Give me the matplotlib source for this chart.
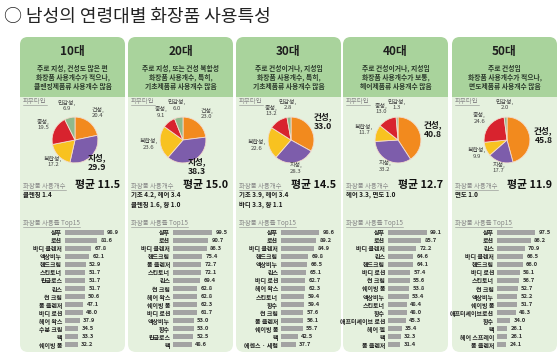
import matplotlib
matplotlib.use('Agg')
import matplotlib.pyplot as plt
from matplotlib.patches import FancyBboxPatch, Rectangle
import numpy as np

plt.rcParams['font.family'] = ['Noto Sans CJK KR', 'DejaVu Sans']

# === DATA === #
Title = '○ 남성의 연령대별 화장품 사용특성'
AgeGroups = ['10대', '20대', '30대', '40대', '50대']
Descriptions = [
    ['주로 지성, 건성도 많은 편', '화장품 사용개수가 적으나,', '클렌징제품류 사용개수 많음'],
    ['주로 지성, 또는 건성 복합성', '화장품 사용개수, 특히,', '기초제품류 사용개수 많음'],
    ['주로 건성이거나, 지성임', '화장품 사용개수, 특히,', '기초제품류 사용개수 많음'],
    ['주로 건성이거나, 지성임', '화장품 사용개수가 보통,', '헤어제품류 사용개수 많음'],
    ['주로 건성임', '화장품 사용개수가 적으나,', '면도제품류 사용개수 많음'],
]
SkinTypes = ['건성', '지성', '복합성', '중성', '민감성']
SkinColors = ['#f28a1e', '#7d5dab', '#f8c220', '#d8232e', '#8fb98c']
Skin10 = [20.4, 29.9, 17.2, 19.5, 6.9]
Skin20 = [23.0, 38.3, 23.6, 9.1, 6.0]
Skin30 = [33.0, 28.3, 22.6, 13.2, 2.8]
Skin40 = [40.8, 33.2, 11.7, 13.0, 1.3]
Skin50 = [45.8, 17.7, 9.9, 24.6, 2.0]
SkinShares = [Skin10, Skin20, Skin30, Skin40, Skin50]

AvgCount = [11.5, 15.0, 14.5, 12.7, 11.9]
CountNotes = [
    ['클렌징 1.4'],
    ['기초 4.2, 헤어 3.4', '클렌징 1.6, 향 1.0'],
    ['기초 3.9, 헤어 3.4', '바디 3.3, 향 1.1'],
    ['헤어 3.3, 면도 1.0'],
    ['면도 1.0'],
]

Items10 = ['샴푸', '로션', '바디 클렌저', '액상비누', '핸드크림', '스킨토너', '립글로스', '린스',
           '썬 크림', '폼 클렌저', '바디 로션', '헤어 왁스', '수분 크림', '팩', '쉐이빙 폼']
Rates10 = [98.9, 81.6, 67.8, 62.1, 52.9, 51.7, 51.7, 51.7, 50.6, 47.1, 46.0, 37.9, 34.5, 33.3, 32.2]
Items20 = ['샴푸', '로션', '바디 클렌저', '핸드크림', '폼 클렌저', '스킨토너', '린스', '썬 크림',
           '헤어 왁스', '쉐이빙 폼', '바디 로션', '액상비누', '향수', '립글로스', '팩']
Rates20 = [99.5, 90.7, 86.3, 75.4, 72.7, 72.1, 69.4, 62.8, 62.8, 62.3, 61.7, 53.0, 53.0, 52.5, 48.6]
Items30 = ['샴푸', '로션', '바디 클렌저', '핸드크림', '액상비누', '린스', '바디 로션', '헤어 왁스',
           '스킨토너', '향수', '썬 크림', '폼 클렌저', '쉐이빙 폼', '팩', '에센스 · 세럼']
Rates30 = [98.6, 89.2, 84.9, 69.8, 66.5, 65.1, 62.7, 62.3, 59.4, 59.4, 57.6, 56.1, 55.7, 42.5, 37.7]
Items40 = ['샴푸', '로션', '바디 클렌저', '린스', '핸드크림', '바디 로션', '썬 크림', '쉐이빙 폼',
           '액상비누', '스킨토너', '향수', '애프터셰이브 로션', '헤어 젤', '팩', '폼 클렌저']
Rates40 = [99.1, 85.7, 72.2, 64.6, 64.1, 57.4, 55.6, 53.8, 53.4, 48.4, 48.0, 45.3, 35.4, 32.3, 31.4]
Items50 = ['샴푸', '로션', '린스', '바디 클렌저', '핸드크림', '바디 로션', '스킨토너', '썬 크림',
           '액상비누', '쉐이빙 폼', '애프터셰이브로션', '향수', '팩', '헤어 스프레이', '폼 클렌저']
Rates50 = [97.5, 86.2, 70.9, 66.5, 66.0, 58.1, 56.7, 52.7, 52.2, 51.7, 48.3, 34.0, 26.1, 26.1, 24.1]
TopItems = [Items10, Items20, Items30, Items40, Items50]
TopRates = [Rates10, Rates20, Rates30, Rates40, Rates50]

# === LAYOUT (pixels) === #
W, H = 560, 356
ColLeft = [20, 128, 236, 343, 452]
ColW = 105
HeaderTop, HeaderBot, BodyBot = 37, 97, 352
HeaderColor = '#a9d39c'
BodyColor = '#e5f1de'
BarColor = '#a3a3a3'
GreyText = '#8a8a8a'


def fig_rect(x, y, w, h):
    '''pixel box (top-left origin) -> figure fraction'''
    return [x / W, 1 - (y + h) / H, w / W, h / H]


fig = plt.figure(figsize=(W / 100, H / 100), dpi=100)
fig.patch.set_facecolor('white')
bg = fig.add_axes([0, 0, 1, 1])
bg.set_xlim(0, W)
bg.set_ylim(H, 0)
bg.axis('off')

bg.text(4, 17, Title, fontsize=13, va='center', ha='left', color='#222222')

underlined = []
for i, left in enumerate(ColLeft):
    cx = left + ColW / 2
    # panel body + header
    bg.add_patch(FancyBboxPatch((left, HeaderTop), ColW, BodyBot - HeaderTop,
                                boxstyle='round,pad=0,rounding_size=8', fc=BodyColor, ec='none'))
    bg.add_patch(FancyBboxPatch((left, HeaderTop), ColW, HeaderBot - HeaderTop,
                                boxstyle='round,pad=0,rounding_size=8', fc=HeaderColor, ec='none'))
    bg.add_patch(Rectangle((left, HeaderBot - 10), ColW, 10, fc=HeaderColor, ec='none'))
    bg.text(cx, 52, AgeGroups[i], fontsize=8.5, fontweight='bold', ha='center', va='center', color='#1e1e1e')
    for k, line in enumerate(Descriptions[i]):
        bg.text(cx, 68 + 9 * k, line, fontsize=4.9, fontweight='bold', ha='center', va='center', color='#2b3a2b')

    t = bg.text(left + 3, 101, '피부타입', fontsize=4.6, color=GreyText, ha='left', va='center')
    underlined.append(t)
    t = bg.text(left + 3, 186, '화장품 사용개수', fontsize=4.6, color=GreyText, ha='left', va='center')
    underlined.append(t)
    bg.text(left + ColW - 5, 185, f'평균 {AvgCount[i]:.1f}', fontsize=7.8, fontweight='bold',
            ha='right', va='center', color='#111111')
    for k, line in enumerate(CountNotes[i]):
        bg.text(left + 3, 195 + 9 * k, line, fontsize=4.6, fontweight='bold', ha='left', va='center', color='#1a1a1a')
    t = bg.text(left + 3, 223, '화장품 사용률 Top15', fontsize=4.6, color=GreyText, ha='left', va='center')
    underlined.append(t)

    # pie
    pw = 110
    pcx, pcy = left + 55, 140
    pax = fig.add_axes(fig_rect(pcx - pw / 2, pcy - pw / 2, pw, pw))
    shares = np.array(SkinShares[i])
    wedges, _ = pax.pie(shares, colors=SkinColors, startangle=90, counterclock=False,
                        wedgeprops=dict(edgecolor='#f3dccd', linewidth=0.6))
    pax.set_xlim(-2.4, 2.4)
    pax.set_ylim(-2.4, 2.4)
    pax.set_aspect('equal')
    pax.axis('off')
    imax = int(np.argmax(shares))
    for j, w in enumerate(wedges):
        ang = np.deg2rad((w.theta1 + w.theta2) / 2)
        big = j == imax
        # labels below the pie sit closer to it
        rr = (1.6 if big else 1.55) - 0.32 * max(0.0, -np.sin(ang))
        pax.text(rr * np.cos(ang), rr * np.sin(ang), f'{SkinTypes[j]},\n{shares[j]:.1f}',
                 fontsize=6.2 if big else 4.3, fontweight='bold' if big else 'normal',
                 ha='center', va='center', linespacing=1.1,
                 color='#1a1a1a' if big else '#444444')

    # top15 bars
    bax = fig.add_axes(fig_rect(left + 45, 228, 39, 121))
    ypos = np.arange(len(TopItems[i]))
    bars = bax.barh(ypos, TopRates[i], height=0.62, color=BarColor)
    bax.set_xlim(0, 100)
    bax.set_ylim(len(ypos) - 0.5, -0.5)
    bax.set_yticks(ypos)
    bax.set_yticklabels(TopItems[i], fontsize=4.3, fontweight='bold', color='#222222')
    bax.tick_params(axis='y', length=0, pad=2)
    bax.set_xticks([])
    bax.patch.set_alpha(0)
    for s in bax.spines.values():
        s.set_visible(False)
    bax.bar_label(bars, labels=[f'{v:.1f}' for v in TopRates[i]], padding=2.5,
                  fontsize=4.2, fontweight='bold', color='#333333')

# underline the grey section labels
fig.canvas.draw()
for t in underlined:
    bb = t.get_window_extent()
    y = H - bb.y0 + 0.3
    bg.plot([bb.x0, bb.x1], [y, y], color=GreyText, lw=0.4)

fig.savefig('out.png', dpi=100)
